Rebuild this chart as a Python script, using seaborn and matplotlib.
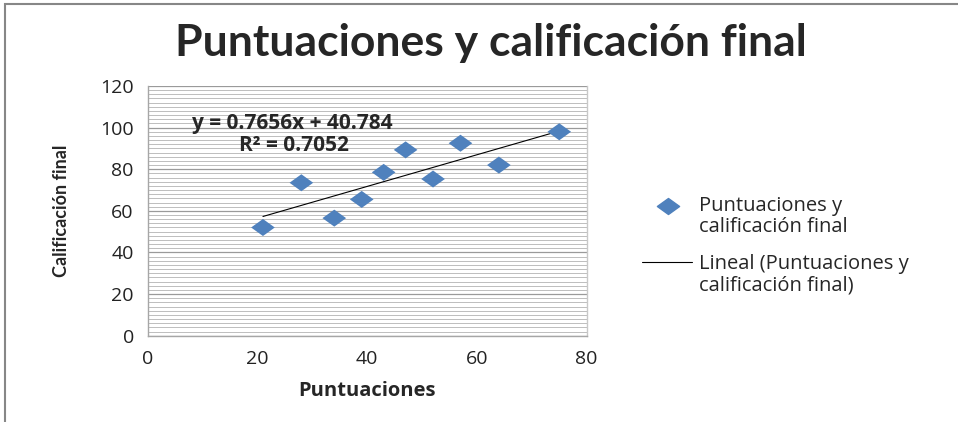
import numpy as np
import pandas as pd
import matplotlib
matplotlib.use("Agg")
import matplotlib.pyplot as plt
import seaborn as sns
from matplotlib.path import Path
from matplotlib.lines import Line2D
from matplotlib.patches import Rectangle
from matplotlib.ticker import MultipleLocator

# valores
puntuaciones = [21, 28, 34, 39, 43, 47, 52, 57, 64, 75]
calificacion = [52, 73.5, 56.5, 65.5, 78.5, 89.3, 75.3, 92.5, 82, 98]
ecuacion = "y = 0.7656x + 40.784"
r2_texto = "R² = 0.7052"
serie = "Puntuaciones y\ncalificación final"
serie_lineal = "Lineal (Puntuaciones y\ncalificación final)"

AZUL = "#4F81BD"
GRIS = "#A6A6A6"
W, H = 958, 422

df = pd.DataFrame({"Puntuaciones": puntuaciones, "Calificación final": calificacion})

sns.set_theme(style="white")
plt.rcParams["font.family"] = ["Open Sans", "DejaVu Sans"]

rombo = Path([(-1, 0), (0, 0.72), (1, 0), (0, -0.72), (-1, 0)],
             [Path.MOVETO, Path.LINETO, Path.LINETO, Path.LINETO, Path.CLOSEPOLY])

fig = plt.figure(figsize=(W / 100, H / 100), dpi=100)
ax = fig.add_axes([0.1542, 0.2045, 0.6124 - 0.1542, 0.7962 - 0.2045])

# marco exterior del área del gráfico
fig.patches.append(Rectangle((5 / W, -0.1), 1.2, 1.1 - 4 / H, transform=fig.transFigure,
                             fill=False, edgecolor="#878787", linewidth=1.5))

sns.regplot(data=df, x="Puntuaciones", y="Calificación final", ax=ax, ci=None,
            scatter=False, line_kws=dict(color="black", linewidth=0.8))
sns.scatterplot(data=df, x="Puntuaciones", y="Calificación final", ax=ax,
                marker=rombo, s=290, color=AZUL, edgecolor="none", zorder=3)

ax.set_xlim(0, 80)
ax.set_ylim(0, 120)
ax.xaxis.set_major_locator(MultipleLocator(20))
ax.yaxis.set_major_locator(MultipleLocator(20))
ax.yaxis.set_minor_locator(MultipleLocator(2))
ax.grid(axis="y", which="major", color="#9A9A9A", linewidth=0.9)
ax.grid(axis="y", which="minor", color="#BDBDBD", linewidth=0.7)
ax.set_axisbelow(True)
ax.spines["top"].set_visible(False)
for lado in ["left", "bottom", "right"]:
    ax.spines[lado].set_color(GRIS)
    ax.spines[lado].set_linewidth(1.0)
ax.spines["right"].set_color("#C8C8C8")
ax.tick_params(axis="both", which="major", direction="out", length=6, width=1,
               color=GRIS, labelsize=14, labelcolor="#222222", pad=4)
ax.tick_params(axis="y", which="minor", length=0)

ax.set_xlabel("Puntuaciones", fontsize=14.5, fontweight="bold", labelpad=10)
ax.set_ylabel("Calificación final", fontsize=13, fontweight="bold", labelpad=22,
              family=["Lato", "DejaVu Sans"])

ax.text(26.3, 102.2, ecuacion, fontsize=15, fontweight="bold", ha="center", va="center")
ax.text(26.6, 91.6, r2_texto, fontsize=15, fontweight="bold", ha="center", va="center")

fig.text(0.512, 0.898, "Puntuaciones y calificación final", fontsize=32,
         fontweight="bold", ha="center", va="center", family=["Lato", "DejaVu Sans"])

# leyenda al estilo de Excel: el símbolo va a la altura de la primera línea
fig.add_artist(Line2D([668 / W], [1 - 206 / H], marker=rombo, markersize=16,
                      color=AZUL, linestyle="none", transform=fig.transFigure))
fig.add_artist(Line2D([642 / W, 692 / W], [1 - 262 / H, 1 - 262 / H], color="black",
                      linewidth=0.8, transform=fig.transFigure))
fig.text(699 / W, 1 - 216.5 / H, serie, fontsize=14.5, ha="left", va="center",
         linespacing=1.1)
fig.text(699 / W, 1 - 274.5 / H, serie_lineal, fontsize=14.5, ha="left", va="center",
         linespacing=1.1)

fig.savefig("out.png", dpi=100)
plt.close(fig)
